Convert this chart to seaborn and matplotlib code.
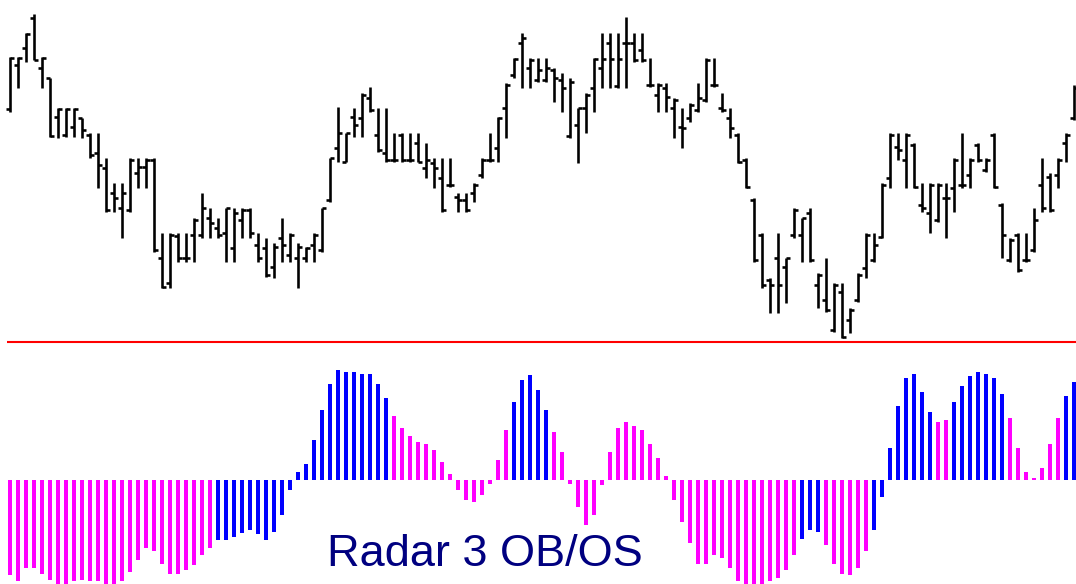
import numpy as np
import pandas as pd
import matplotlib
matplotlib.use("Agg")
import matplotlib.pyplot as plt
import seaborn as sns

# ---------------- data (price bars) ----------------
high = [293, 293, 317, 336, 293, 272, 242, 242, 242, 232, 217, 217, 192, 167, 167, 192, 192, 192, 192, 117,
        117, 117, 117, 132, 157, 142, 132, 142, 142, 142, 142, 117, 112, 107, 132, 117, 107, 103, 117, 142,
        192, 243, 217, 242, 257, 263, 242, 242, 217, 217, 217, 217, 207, 192, 192, 192, 157, 157, 167, 192,
        217, 233, 267, 292, 317, 292, 292, 292, 282, 277, 272, 242, 257, 292, 317, 317, 317, 333, 317, 317,
        292, 267, 267, 252, 242, 247, 267, 292, 292, 257, 242, 217, 192, 152, 117, 72, 117, 92, 142, 132,
        142, 77, 92, 67, 67, 42, 77, 117, 117, 167, 217, 217, 217, 207, 167, 167, 167, 167, 192, 217,
        192, 207, 192, 217, 147, 112, 117, 117, 142, 192, 177, 192, 217, 265]
low = [238, 262, 288, 290, 262, 213, 212, 213, 213, 212, 192, 162, 138, 138, 112, 138, 162, 162, 98, 62,
       62, 88, 88, 88, 112, 112, 112, 88, 88, 112, 112, 88, 73, 72, 88, 88, 62, 88, 88, 98,
       148, 188, 188, 213, 213, 238, 198, 188, 188, 188, 188, 188, 172, 162, 138, 163, 138, 138, 148, 172,
       188, 188, 212, 272, 262, 262, 268, 268, 248, 238, 212, 187, 217, 238, 262, 262, 262, 262, 288, 288,
       263, 238, 238, 212, 202, 228, 238, 248, 263, 238, 212, 187, 162, 88, 62, 37, 37, 47, 112, 88,
       88, 42, 38, 18, 12, 17, 48, 72, 88, 112, 162, 190, 162, 162, 138, 117, 128, 112, 138, 162,
       162, 188, 178, 162, 92, 88, 78, 88, 98, 138, 138, 162, 188, 230]
open_ = [241, 285, 302, 332, 282, 272, 233, 215, 223, 232, 215, 197, 182, 157, 142, 140, 177, 183, 190, 92,
         67, 114, 92, 115, 115, 132, 122, 117, 102, 130, 140, 105, 102, 83, 112, 95, 92, 92, 105, 100,
         150, 202, 188, 233, 232, 252, 215, 197, 190, 215, 190, 207, 182, 187, 172, 165, 153, 150, 157, 175,
         190, 202, 242, 275, 307, 282, 270, 270, 280, 270, 214, 225, 242, 262, 282, 307, 264, 307, 307, 300,
         265, 255, 262, 242, 223, 232, 240, 250, 265, 242, 232, 215, 190, 150, 115, 70, 92, 83, 115, 115,
         137, 65, 50, 20, 58, 30, 50, 82, 90, 113, 172, 203, 190, 205, 145, 137, 130, 152, 162, 165,
         175, 205, 180, 215, 145, 90, 115, 90, 100, 165, 173, 175, 207, 232]
close = [292, 292, 316, 290, 292, 214, 241, 241, 241, 220, 195, 185, 140, 152, 157, 190, 183, 190, 100, 63,
         115, 92, 92, 130, 142, 127, 115, 142, 137, 140, 117, 92, 75, 103, 105, 115, 103, 102, 115, 142,
         192, 217, 217, 225, 255, 240, 200, 190, 190, 190, 190, 188, 190, 182, 140, 165, 150, 140, 165, 190,
         190, 232, 265, 291, 312, 290, 280, 282, 272, 262, 268, 242, 255, 291, 291, 291, 291, 307, 290, 290,
         265, 265, 253, 250, 222, 245, 252, 290, 265, 240, 222, 188, 163, 90, 65, 65, 65, 92, 140, 132,
         90, 75, 40, 65, 13, 40, 75, 115, 105, 165, 215, 200, 215, 163, 142, 165, 165, 152, 190, 165,
         190, 190, 190, 163, 115, 110, 80, 90, 130, 142, 140, 190, 215, 262]

# ---------------- data (Radar 3 OB/OS histogram) ----------------
osc = [-95.5, -101, -88, -88, -94, -100, -110, -110, -101, -100, -101, -101, -110, -110, -101, -92, -80, -68,
       -71.5, -84, -94, -94, -90, -85, -75.5, -68,
       -60, -60, -57, -53, -50, -54, -60, -52, -35.5, -10,
       8, 15.5, 40, 70, 96, 109.5, 108, 108,
       106, 106, 96, 82,
       63.5, 52, 44, 38, 35.5, 29.5, 18, 6,
       -10, -20, -22, -15.5, -4,
       19.5, 49.5,
       78, 99.5, 104.5, 89.5, 70,
       48, 28,
       -4, -27, -45.5, -35.5, -5.5,
       28, 52, 58, 53.5, 49.5, 35.5, 22, 4,
       -20, -42, -63, -84, -84,
       -75.5, -78, -88, -101, -110, -110, -110, -101, -98, -90, -75.5,
       -59.5, -50, -52,
       -65.5, -84, -94, -95.5, -88, -71.5,
       -50, -17, 32, 74, 102, 106, 88, 68,
       58, 60,
       78, 94, 104, 108, 106, 102, 86,
       62, 32, 8, 2, 12, 36, 62,
       84, 98]
state = list("MMMMMMMMMMMMMMMMMMMMMMMMMM"
             "BBBBBBBBBBBBBBBBBBBBBB"
             "MMMMMMMMMMMMMMM"
             "BBBBB"
             "MMMMMMMMMMMMMMMMMMMMMMMMMMMMMMM"
             "BBB"
             "MMMMMM"
             "BBBBBBBB"
             "MM"
             "BBBBBBB"
             "MMMMMMM"
             "BB")
label = "Radar 3 OB/OS"

n = len(high)
idx = np.arange(n)

W, H = 1076, 584
fig = plt.figure(figsize=(W / 100, H / 100), dpi=100)
fig.patch.set_facecolor("white")

split = 346  # pixel row between panels
ax_top = fig.add_axes([0, 1 - split / H, 1, split / H])
ax_bot = fig.add_axes([0, 0, 1, 1 - split / H])

xmin, xmax = -10 / 8, (W - 10) / 8

# ---- price bars ----
px_lw = 2.6 * 72 / 100
ax_top.vlines(idx, low, high, color="black", lw=px_lw)
ax_top.hlines(open_, idx - 0.45, idx, color="black", lw=px_lw, capstyle="butt")
ax_top.hlines(close, idx, idx + 0.45, color="black", lw=px_lw, capstyle="butt")
ax_top.hlines(8, -0.4, xmax, color="#ff0000", lw=1.5)
ax_top.set_xlim(xmin, xmax)
ax_top.set_ylim(350 - split, 350)
ax_top.axis("off")

# ---- histogram ----
df = pd.DataFrame({"i": idx, "v": osc, "s": state})
sns.barplot(data=df, x="i", y="v", hue="s", palette={"M": "#ff00ff", "B": "#0000ff"},
            native_scale=True, dodge=False, width=0.38, errorbar=None, legend=False,
            saturation=1, linewidth=0, ax=ax_bot)
ax_bot.set_xlim(xmin, xmax)
ax_bot.set_ylim(479.5 - H, 479.5 - split)
ax_bot.axis("off")

fig.text(327 / W, 1 - 566 / H, label, color="#000080", fontsize=32.5,
         family=["Liberation Sans", "DejaVu Sans"], ha="left", va="baseline")

fig.savefig("out.png", dpi=100, facecolor="white")
